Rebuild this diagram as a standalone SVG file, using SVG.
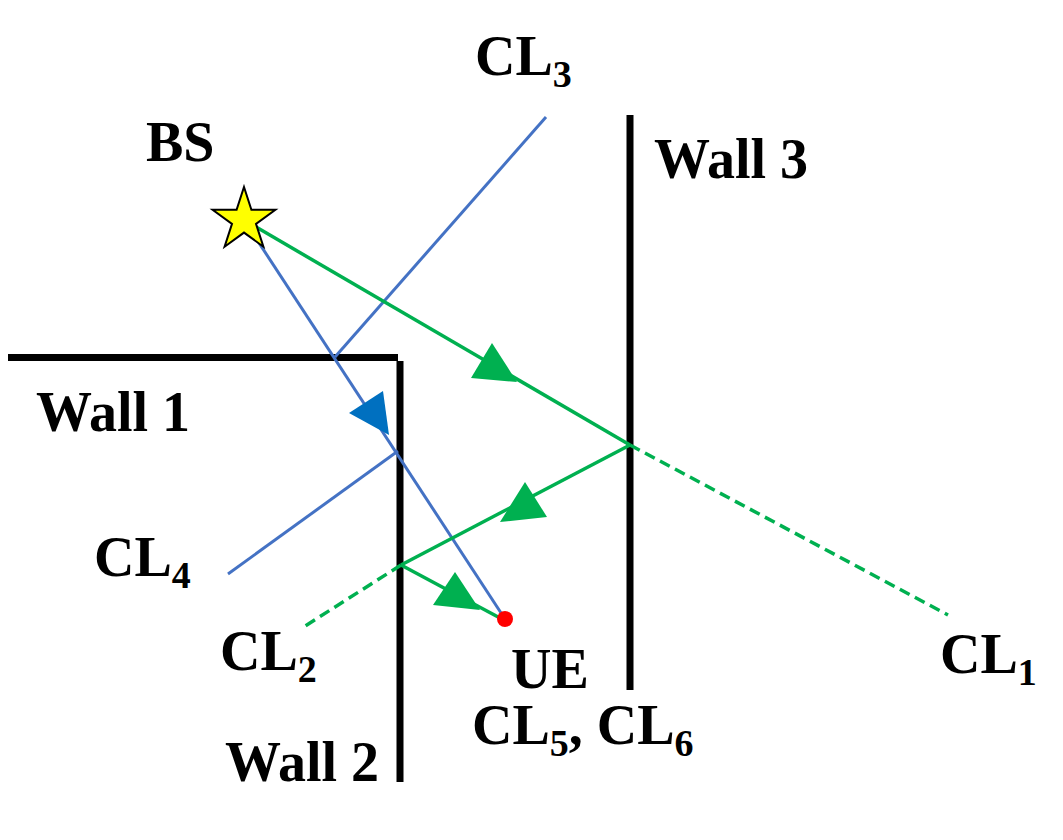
<svg xmlns="http://www.w3.org/2000/svg" width="1063" height="840" viewBox="0 0 1063 840">
<style>
.lbl{font-family:"Liberation Serif","Times New Roman",serif;font-weight:bold;font-size:56px;fill:#000}
.sub{font-size:38px}
.wall{stroke:#000;stroke-width:7;fill:none}
.blue{stroke:#4472C4;stroke-width:3;fill:none}
.green{stroke:#00B050;stroke-width:3.5;fill:none}
.dash{stroke-dasharray:11 6}
</style>
<rect width="1063" height="840" fill="#fff"/>
<g id="walls">
<g id="wall1"><line class="wall" x1="8" y1="357.5" x2="398" y2="357.5"/><text class="lbl" x="36" y="431">Wall 1</text></g>
<g id="wall2"><line class="wall" x1="400" y1="361" x2="400" y2="782"/><text class="lbl" x="225" y="781">Wall 2</text></g>
<g id="wall3"><line class="wall" x1="630" y1="115" x2="630" y2="690"/><text class="lbl" x="654" y="178">Wall 3</text></g>
</g>
<g id="connectors">
<line class="blue" x1="546" y1="117" x2="335" y2="357"/>
<line class="blue" x1="228" y1="574" x2="398" y2="451"/>
<line class="blue" x1="244" y1="220" x2="505" y2="619"/>
<polygon points="349,413 383,391 389,435" fill="#0070C0"/>
<line class="green" x1="244" y1="220" x2="630" y2="445"/>
<line class="green dash" x1="630" y1="445" x2="948" y2="615"/>
<line class="green" x1="630" y1="445" x2="401" y2="565"/>
<line class="green dash" x1="401" y1="565" x2="302" y2="628"/>
<line class="green" x1="401" y1="565" x2="500" y2="618"/>
<polygon points="492,343 471,378 517,382" fill="#00B050"/>
<polygon points="525,482 500,522 547,517" fill="#00B050"/>
<polygon points="455,572 433,605 480,610" fill="#00B050"/>
</g>
<g id="bs">
<polygon points="244,187 251.4,209.8 275.4,209.8 256,223.9 263.4,246.7 244,232.6 224.6,246.7 232,223.9 212.6,209.8 236.6,209.8" fill="#FFFF00" stroke="#000" stroke-width="2"/>
<text class="lbl" x="146" y="161">BS</text>
</g>
<g id="ue">
<circle cx="505" cy="619" r="8" fill="#FF0000"/>
<text class="lbl" x="511" y="688">UE</text>
</g>
<g id="cl1"><text class="lbl" x="940" y="673">CL<tspan class="sub" dy="12">1</tspan></text></g>
<g id="cl2"><text class="lbl" x="220" y="670">CL<tspan class="sub" dy="12">2</tspan></text></g>
<g id="cl3"><text class="lbl" x="475" y="75">CL<tspan class="sub" dy="12">3</tspan></text></g>
<g id="cl4"><text class="lbl" x="94" y="576">CL<tspan class="sub" dy="12">4</tspan></text></g>
<g id="cl56"><text class="lbl" x="472" y="744">CL<tspan class="sub" dy="12">5</tspan><tspan dy="-12">, CL</tspan><tspan class="sub" dy="12">6</tspan></text></g>
</svg>
